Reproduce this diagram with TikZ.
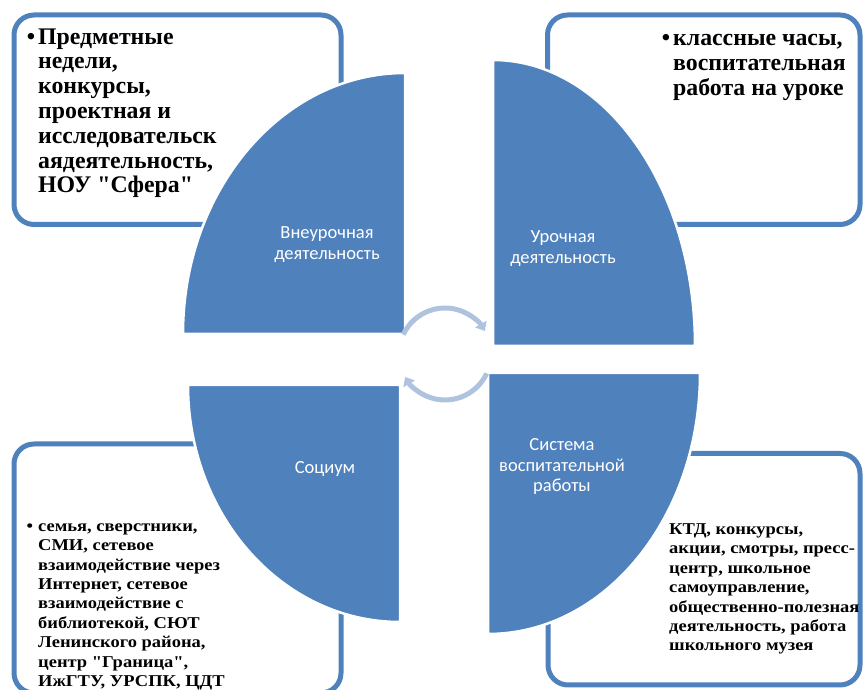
\documentclass[tikz,border=0pt]{standalone}
\usepackage{fontspec}
\setmainfont{Liberation Serif}[Ligatures=TeXOff]
\newfontfamily\widefont{Liberation Serif}[Ligatures=TeXOff, FakeStretch=1.12]
\newfontfamily\labelfont{Carlito}
\usetikzlibrary{arrows.meta}
\definecolor{sectorblue}{HTML}{4F81BD}
\definecolor{arrowblue}{HTML}{AFC3DF}
\tikzset{
  infobox/.style={draw=sectorblue, line width=5pt, fill=white, rounded corners=20pt},
  sector/.style={fill=sectorblue, draw=white, line width=2.5pt},
  sectorlabel/.style={text=white, align=center, font=\labelfont\fontsize{18.5}{20.5}\selectfont},
  bigtext/.style={anchor=base west, inner sep=0pt, align=left, font=\bfseries\fontsize{23.8}{24.8}\selectfont},
  smalltext/.style={anchor=base west, inner sep=0pt, align=left, font=\widefont\bfseries\fontsize{16.5}{19.4}\selectfont},
  cyclearrow/.style={draw=arrowblue, line width=5pt, -{Triangle[length=8pt,width=13pt]}}
}
\begin{document}
\begin{tikzpicture}[x=1pt,y=1pt]
\useasboundingbox (0,0) rectangle (863,690);
%draw the boxes
\draw[infobox] (14,465.5) rectangle (341,675);
\draw[infobox] (547.5,465.5) rectangle (860,675);
\draw[infobox] (14,-3) rectangle (341,246);
\draw[infobox] (548,5) rectangle (860,236.5);
%draw the quarter sectors
\draw[sector] (405,356) -- (183,356) arc[start angle=180, end angle=90, x radius=222, y radius=261] -- cycle;
\draw[sector] (493,344) -- (493,630) arc[start angle=90, end angle=0, x radius=202, y radius=286] -- cycle;
\draw[sector] (400,305) -- (188,305) arc[start angle=180, end angle=270, x radius=212, y radius=237] -- cycle;
\draw[sector] (488,317) -- (700,317) arc[start angle=0, end angle=-90, x radius=212, y radius=261] -- cycle;
%draw the cycle arrows
\draw[cyclearrow] ([shift={(155:46)}]445,336) arc[start angle=155, end angle=30, radius=46];
\draw[cyclearrow] ([shift={(-25:46)}]445,336) arc[start angle=-25, end angle=-150, radius=46];
%sector labels
\node[sectorlabel] (extra) at (327,445.5) {Внеурочная\\деятельность};
\node[sectorlabel] (lesson) at (563,441.5) {Урочная\\деятельность};
\node[sectorlabel] (society) at (325,221) {Социум};
\node[sectorlabel] (upbringing) at (562,223.5) {Система\\воспитательной\\работы};
%box texts (base is the last line)
\node[bigtext] (extratext) at (38,497) {\llap{\textbullet\hspace{3pt}}Предметные\\недели,\\конкурсы,\\проектная и\\исследовательск\\аядеятельность,\\НОУ "Сфера"};
\node[bigtext] (lessontext) at (673,594.5) {\llap{\textbullet\hspace{3pt}}классные часы,\\воспитательная\\работа на уроке};
\node[smalltext] (societytext) at (38,3.5) {\llap{\textbullet\hspace{5pt}}семья, сверстники,\\СМИ, сетевое\\взаимодействие через\\Интернет, сетевое\\взаимодействие с\\библиотекой, СЮТ\\Ленинского района,\\центр "Граница",\\ИжГТУ, УРСПК, ЦДТ};
\node[smalltext] (upbringingtext) at (669,39) {КТД, конкурсы,\\акции, смотры, пресс-\\центр, школьное\\самоуправление,\\общественно-полезная\\деятельность, работа\\школьного музея};
\end{tikzpicture}
\end{document}
